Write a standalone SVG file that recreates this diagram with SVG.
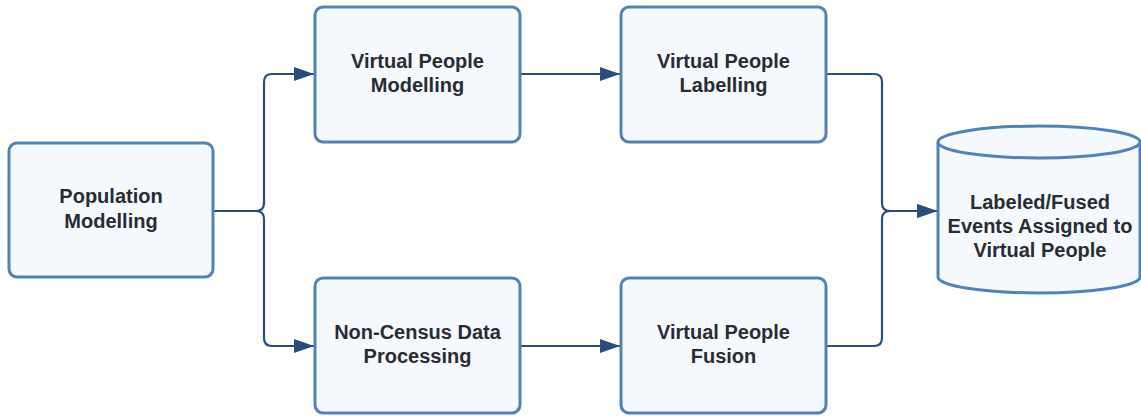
<svg xmlns="http://www.w3.org/2000/svg" width="1141" height="416" viewBox="0 0 1141 416">
<style>
.box{fill:#f5f9fe;stroke:#4f83b8;stroke-width:3}
.lbl{font-family:"Liberation Sans",Arial,sans-serif;font-weight:bold;font-size:20px;fill:#282c33;text-anchor:middle}
.conn{fill:none;stroke:#284f78;stroke-width:2.2}
</style>
<defs>
<marker id="ah" markerWidth="20" markerHeight="14" refX="20" refY="7" orient="auto" markerUnits="userSpaceOnUse">
<path d="M0,0 L20,7 L0,14 Z" fill="#284f78"/>
</marker>
</defs>
<g id="connectors">
<path class="conn" d="M213,211 H256 Q264,211 264,203 V82 Q264,74 272,74 H314" marker-end="url(#ah)"/>
<path class="conn" d="M213,211 H256 Q264,211 264,219 V338 Q264,346 272,346 H314" marker-end="url(#ah)"/>
<path class="conn" d="M520,74 H620" marker-end="url(#ah)"/>
<path class="conn" d="M520,346 H620" marker-end="url(#ah)"/>
<path class="conn" d="M826,74 H874 Q882,74 882,82 V203 Q882,211 890,211 H937" marker-end="url(#ah)"/>
<path class="conn" d="M826,346 H874 Q882,346 882,338 V219 Q882,211 890,211 H937" marker-end="url(#ah)"/>
</g>
<g id="population-modelling">
<rect class="box" x="9" y="143" width="204" height="134" rx="8"/>
<text class="lbl" x="111" y="203">Population</text>
<text class="lbl" x="111" y="228">Modelling</text>
</g>
<g id="virtual-people-modelling">
<rect class="box" x="315" y="7" width="205" height="135" rx="8"/>
<text class="lbl" x="417.5" y="68">Virtual People</text>
<text class="lbl" x="417.5" y="92">Modelling</text>
</g>
<g id="virtual-people-labelling">
<rect class="box" x="621" y="7" width="205" height="135" rx="8"/>
<text class="lbl" x="723.5" y="68">Virtual People</text>
<text class="lbl" x="723.5" y="92">Labelling</text>
</g>
<g id="non-census-data-processing">
<rect class="box" x="315" y="278" width="205" height="135" rx="8"/>
<text class="lbl" x="417.5" y="339">Non-Census Data</text>
<text class="lbl" x="417.5" y="363">Processing</text>
</g>
<g id="virtual-people-fusion">
<rect class="box" x="621" y="278" width="205" height="135" rx="8"/>
<text class="lbl" x="723.5" y="339">Virtual People</text>
<text class="lbl" x="723.5" y="363">Fusion</text>
</g>
<g id="labeled-fused-events">
<path class="box" d="M938,142 A101,16 0 0 1 1140,142 V277 A101,16 0 0 1 938,277 Z"/>
<path class="box" d="M938,142 A101,16 0 0 0 1140,142" fill="none"/>
<text class="lbl" x="1040" y="209">Labeled/Fused</text>
<text class="lbl" x="1040" y="233">Events Assigned to</text>
<text class="lbl" x="1040" y="257">Virtual People</text>
</g>
</svg>
